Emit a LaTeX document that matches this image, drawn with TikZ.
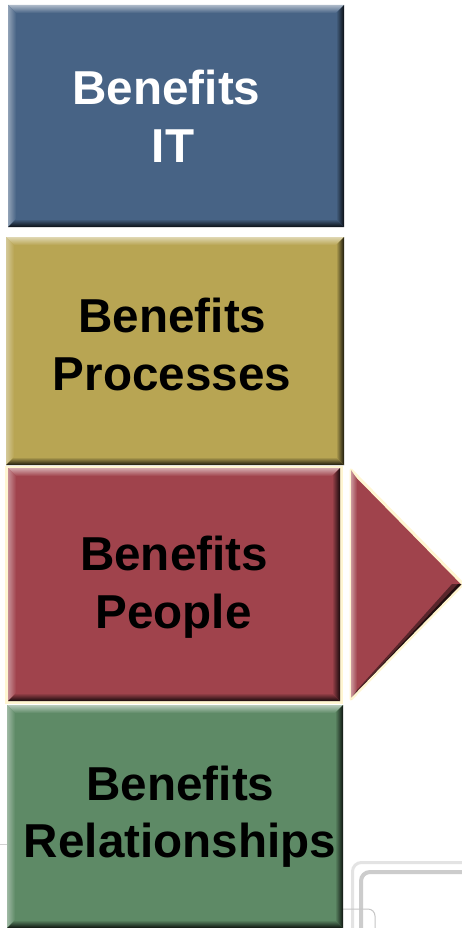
\documentclass[tikz,border=0pt]{standalone}
\usepackage{fontspec}
\setmainfont{Liberation Sans}
\definecolor{cblue}{HTML}{476385}
\definecolor{cyellow}{HTML}{B8A553}
\definecolor{cred}{HTML}{A0434C}
\definecolor{cgreen}{HTML}{5E8A66}
\definecolor{cream}{HTML}{FFF6D2}
\newcommand\bevbox[5]{%
  \fill[#5] (#1,#2) rectangle (#3,#4);
  \shade[top color=#5!45!white, bottom color=#5] (#1,#2) -- (#3,#2) -- (#3-8,#2+8) -- (#1+8,#2+8) -- cycle;
  \shade[left color=#5!60!white, right color=#5] (#1,#2) -- (#1+8,#2+8) -- (#1+8,#4-8) -- (#1,#4) -- cycle;
  \shade[left color=#5, right color=#5!15!black] (#3,#2) -- (#3,#4) -- (#3-8,#4-8) -- (#3-8,#2+8) -- cycle;
  \shade[top color=#5, bottom color=#5!15!black] (#1,#4) -- (#3,#4) -- (#3-8,#4-8) -- (#1+8,#4-8) -- cycle;
}
\tikzset{
  lbl/.style={anchor=base, inner sep=0pt, font=\fontsize{47.6}{56}\selectfont\bfseries},
  bgline/.style={line width=#1, rounded corners=9pt},
}
\begin{document}
\begin{tikzpicture}[x=1pt, y=-1pt]
\useasboundingbox (0,0) rectangle (462,928);
\fill[white] (0,0) rectangle (462,928);
% faint background lines
\draw[gray!35, line width=1pt] (0,844) -- (10,844);
\draw[gray!22, bgline=3pt] (352.5,930) -- (352.5,862.5) -- (465,862.5);
\draw[gray!40, bgline=4pt] (361,930) -- (361,872) -- (465,872);
\draw[gray!45, line width=1pt, rounded corners=7pt] (340,909) -- (375,909) -- (375,930);
% boxes
\bevbox{8}{5}{344}{227}{cblue}
\bevbox{6}{237}{344}{465}{cyellow}
\fill[cream] (5,465.5) rectangle (342.5,703.5);
\bevbox{8}{468}{340}{701}{cred}
\bevbox{7}{705}{343}{928}{cgreen}
% triangle
\filldraw[fill=cred, draw=cream, line width=3pt, line join=round] (351,470) -- (463,584) -- (351,699) -- cycle;
\shade[left color=cred!55!white, right color=cred] (351,470) -- (357,479) -- (357,690) -- (351,699) -- cycle;
\fill[cred!55!black] (351,699) -- (463,584) -- (452,584) -- (357,690) -- cycle;
\fill[cred!20!black] (351,699) -- (463,584) -- (458,584) -- (353,696) -- cycle;
\draw[cream, line width=1.5pt] (351,699) -- (463,584);
% labels
\node[lbl, white] (t1a) at (166.5,105) {Benefits};
\node[lbl, white] (t1b) at (173,163) {IT};
\node[lbl] (t2a) at (172.5,332) {Benefits};
\node[lbl] (t2b) at (172,390) {Processes};
\node[lbl] (t3a) at (174,570) {Benefits};
\node[lbl] (t3b) at (173.5,628) {People};
\node[lbl] (t4a) at (180.5,800) {Benefits};
\node[lbl] (t4b) at (180,857) {Relationships};
\end{tikzpicture}
\end{document}
